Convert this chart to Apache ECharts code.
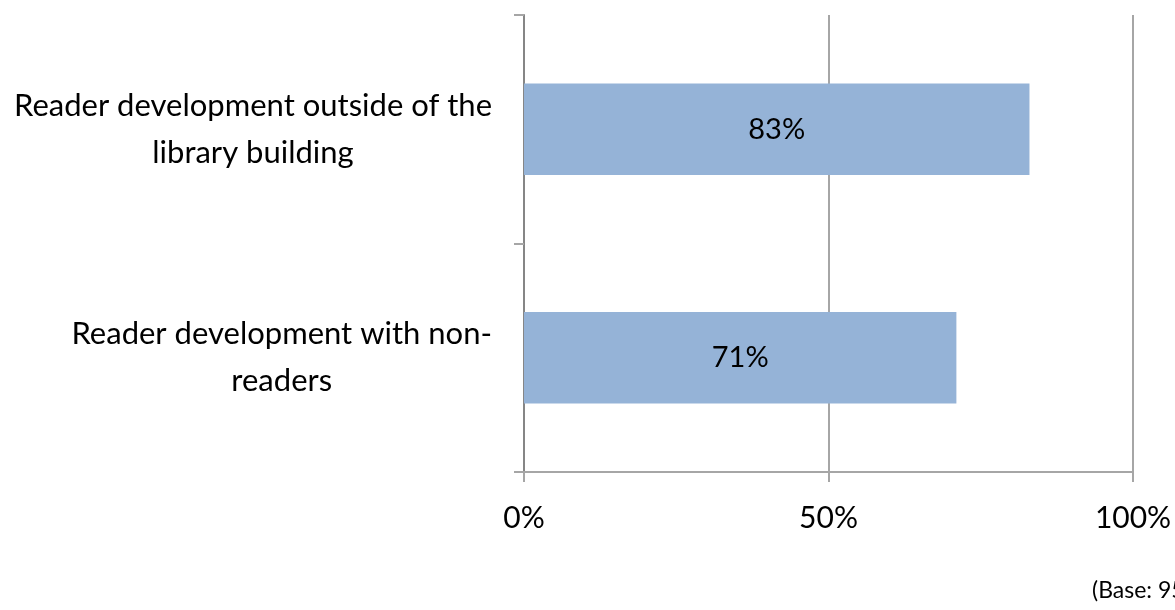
<!DOCTYPE html>
<html>
<head>
<meta charset="utf-8">
<script src="https://cdn.jsdelivr.net/npm/echarts@6/dist/echarts.min.js"></script>
<style>
  html, body { margin: 0; padding: 0; background: #fff; }
  #chart { width: 1175px; height: 610px; }
</style>
</head>
<body>
<div id="chart"></div>
<script>
// données
const categories = [
  'Reader development outside of the\nlibrary building',
  'Reader development with non-\nreaders'
];
const values = [83, 71];
const xTicks = [0, 50, 100];
const baseNote = '(Base: 95';

const font = 'Lato, "Open Sans", sans-serif';

const chart = echarts.init(document.getElementById('chart'));

chart.setOption({
  animation: false,
  grid: { left: 524, right: 42, top: 15, bottom: 138 },
  xAxis: {
    type: 'value',
    min: xTicks[0],
    max: xTicks[xTicks.length - 1],
    interval: 50,
    axisLine: { show: true, lineStyle: { color: '#a6a6a6', width: 2 } },
    axisTick: { show: true, length: 10, lineStyle: { color: '#a6a6a6', width: 2 } },
    splitLine: { show: true, lineStyle: { color: '#a6a6a6', width: 2 } },
    axisLabel: {
      formatter: '{value}%',
      margin: 31,
      fontFamily: font,
      fontSize: 30,
      color: '#000'
    }
  },
  yAxis: {
    type: 'category',
    inverse: true,
    data: categories,
    axisLine: { show: true, lineStyle: { color: '#868686', width: 2 } },
    axisTick: { show: true, length: 10, lineStyle: { color: '#a6a6a6', width: 2 } },
    axisLabel: {
      margin: 32,
      align: 'right',
      formatter: v => v.split('\n').map(l => '{c|' + l + '}').join('\n'),
      rich: {
        c: { align: 'center', fontFamily: font, fontSize: 31, lineHeight: 47, color: '#000' }
      }
    }
  },
  series: [{
    type: 'bar',
    data: values,
    barWidth: '40%',
    itemStyle: { color: '#95b3d7' },
    label: {
      show: true,
      position: 'inside',
      formatter: '{c}%',
      fontFamily: font,
      fontSize: 29,
      color: '#000'
    }
  }],
  graphic: [{
    type: 'text',
    left: 1092,
    top: 579,
    style: { text: baseNote, fontFamily: font, fontSize: 23, fill: '#000' }
  }]
});
</script>
</body>
</html>
